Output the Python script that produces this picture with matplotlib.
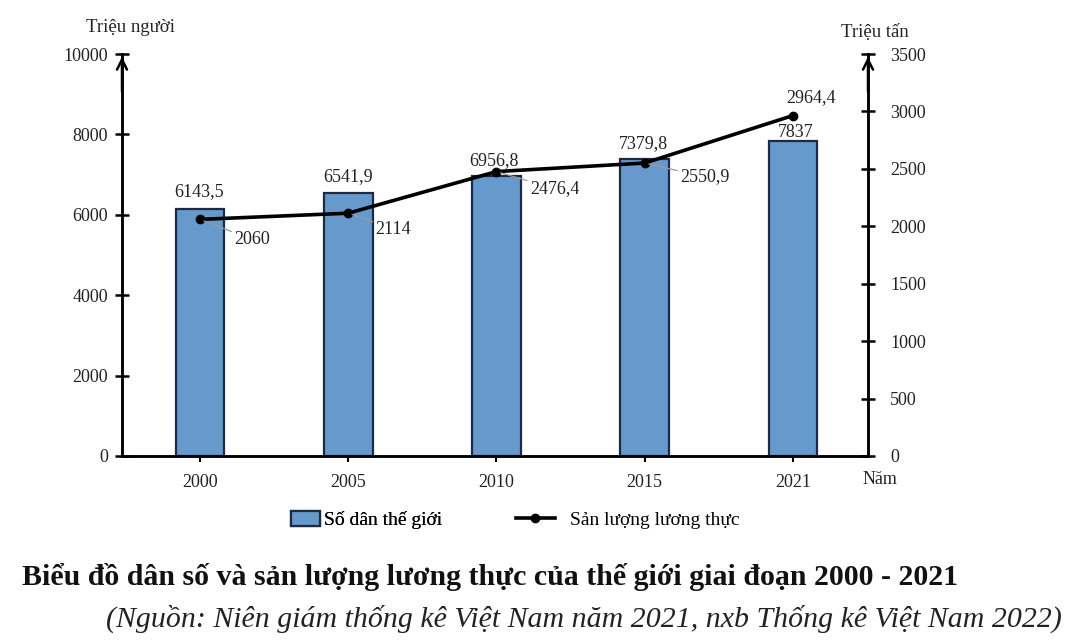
import matplotlib
matplotlib.use("Agg")
import matplotlib.pyplot as plt
from matplotlib.patches import Patch
from matplotlib.lines import Line2D

plt.rcParams['font.family'] = ['Liberation Serif', 'DejaVu Serif']

years = ["2000", "2005", "2010", "2015", "2021"]
population = [6143.5, 6541.9, 6956.8, 7379.8, 7837]
food = [2060, 2114, 2476.4, 2550.9, 2964.4]
left_ticks = [0, 2000, 4000, 6000, 8000, 10000]
right_ticks = [0, 500, 1000, 1500, 2000, 2500, 3000, 3500]

title = "Biểu đồ dân số và sản lượng lương thực của thế giới giai đoạn 2000 - 2021"
source = "(Nguồn: Niên giám thống kê Việt Nam năm 2021, nxb Thống kê Việt Nam 2022)"

def fmt(v):
    return f"{v:g}".replace('.', ',')

BAR_FC = '#6699cc'
BAR_EC = '#1c2a48'
TXT = '#222222'

fig = plt.figure(figsize=(10.72, 6.4), dpi=100)
ax = fig.add_axes([0.1138, 0.2875, 0.6959, 0.6281])
ax2 = ax.twinx()

x = list(range(len(years)))
ax.bar(x, population, width=0.33, color=BAR_FC, edgecolor=BAR_EC, linewidth=1.6, zorder=2)
ax.set_xlim(-0.526, 4.506)
ax.set_ylim(0, 10000)
ax2.set_ylim(0, 3500)
ax2.plot(x, food, color='black', lw=2.6, marker='o', ms=6, zorder=5)

for a in (ax, ax2):
    a.spines['top'].set_visible(False)
    for s in ('left', 'right', 'bottom'):
        a.spines[s].set_linewidth(1.8)
        a.spines[s].set_color('black')
ax.set_yticks(left_ticks)
ax.set_yticklabels([str(t) for t in left_ticks])
ax2.set_yticks(right_ticks)
ax2.set_yticklabels([str(t) for t in right_ticks])
ax.set_xticks(x)
ax.set_xticklabels(years)
ax.tick_params(axis='y', direction='inout', length=10, width=1.8, labelsize=13, pad=5, labelcolor=TXT)
ax2.tick_params(axis='y', direction='inout', length=10, width=1.8, labelsize=13, pad=11, labelcolor=TXT)
ax.tick_params(axis='x', direction='inout', length=8, width=1.5, labelsize=13, pad=9, labelcolor=TXT)

# arrows on vertical axes
for xf in (0, 1):
    ax.annotate('', xy=(xf, 1.0), xytext=(xf, 0.9), xycoords='axes fraction',
                arrowprops=dict(arrowstyle='->', lw=1.8, color='black', mutation_scale=18))

# bar labels
bar_off = [17, 16, 16, 16, 8]
bar_dx = [-1, 0, -3, -1, 3]
for i, v in enumerate(population):
    ax.annotate(fmt(v), xy=(i, v), xytext=(bar_dx[i], bar_off[i]), textcoords='offset pixels',
                ha='center', va='center', fontsize=13, color=TXT, zorder=6)

# line labels with leader lines
line_off = [(52, -20), (45, -16), (58, -17), (60, -14), (18, 18)]
for i, v in enumerate(food):
    dx, dy = line_off[i]
    leader = dict(arrowstyle='-', color='#999999', lw=0.9, shrinkA=0, shrinkB=3) if i < 4 else None
    ax2.annotate(fmt(v), xy=(i, v), xytext=(dx, dy), textcoords='offset pixels',
                 ha='center', va='center', fontsize=13, color=TXT, zorder=6,
                 arrowprops=leader)

fig.text(130 / 1072, 1 - 27 / 640, "Triệu người", ha='center', va='center', fontsize=13.5, color=TXT)
fig.text(875 / 1072, 1 - 32 / 640, "Triệu tấn", ha='center', va='center', fontsize=13.5, color=TXT)
fig.text(880 / 1072, 1 - 480 / 640, "Năm", ha='center', va='center', fontsize=13, color=TXT)

leg1 = fig.legend([Patch(facecolor=BAR_FC, edgecolor=BAR_EC, linewidth=1.6)], ["Số dân thế giới"],
                  loc='center', bbox_to_anchor=(367 / 1072, 1 - 520 / 640), frameon=False,
                  fontsize=14, handlelength=1.45, handleheight=0.8, handletextpad=0.25)
leg2 = fig.legend([Line2D([0], [0], color='black', lw=2.6, marker='o', ms=6)], ["Sản lượng lương thực"],
                  loc='center', bbox_to_anchor=(628 / 1072, 1 - 520 / 640), frameon=False,
                  fontsize=14, handlelength=2.0, handletextpad=0.8)
fig.add_artist(leg1)

fig.text(22 / 1072, 1 - 577 / 640, title, ha='left', va='center', fontsize=21.5,
         fontweight='bold', color='#111111')
fig.text(1062 / 1072, 1 - 619 / 640, source, ha='right', va='center', fontsize=21.5,
         fontstyle='italic', color=TXT)

fig.savefig('out.png', dpi=100, facecolor='white')
